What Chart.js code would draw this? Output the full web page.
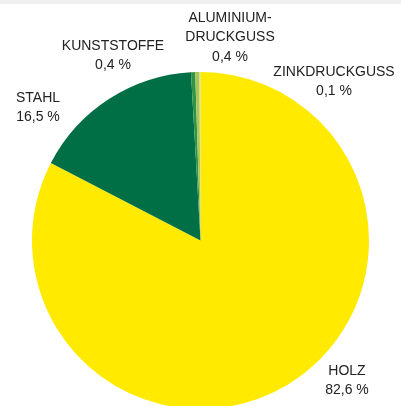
<!DOCTYPE html>
<html>
<head>
<meta charset="utf-8">
<script src="https://cdn.jsdelivr.net/npm/chart.js@4"></script>
<style>
    html, body { margin: 0; padding: 0; background: #fff; }
    #wrap { width: 401px; height: 406px; position: relative; }
</style>
</head>
<body>
<div id="wrap"><canvas id="materialChart" width="401" height="406"></canvas></div>
<script>
// Werkstoffanteile
const materials = ['HOLZ', 'STAHL', 'KUNSTSTOFFE', 'ALUMINIUM-\nDRUCKGUSS', 'ZINKDRUCKGUSS'];
const shares = [82.6, 16.5, 0.4, 0.4, 0.1];
const sliceColors = ['#ffea00', '#006f45', '#2f9446', '#a9c657', '#d8dc86'];

// label anchors (centre x, first line y)
const labelAnchors = [
    [347, 371],
    [38, 98],
    [113, 46],
    [230, 18],
    [334, 72]
];

const lineHeight = 19.5;

const outsideLabels = {
    id: 'outsideLabels',
    beforeDraw(chart) {
        const ctx = chart.ctx;
        ctx.save();
        ctx.fillStyle = '#f0f0f0';
        ctx.fillRect(0, 0, chart.width, 4);
        ctx.restore();
    },
    afterDraw(chart) {
        const ctx = chart.ctx;
        ctx.save();
        ctx.font = '14px "Liberation Sans", Arial, sans-serif';
        ctx.fillStyle = '#222';
        ctx.textAlign = 'center';
        ctx.textBaseline = 'middle';
        materials.forEach(function(name, i) {
            const lines = name.split('\n');
            lines.push(shares[i].toFixed(1).replace('.', ',') + ' %');
            const [x, y] = labelAnchors[i];
            lines.forEach(function(line, j) {
                ctx.fillText(line, x, y + j * lineHeight);
            });
        });
        ctx.restore();
    }
};

new Chart(document.getElementById('materialChart'), {
    type: 'pie',
    data: {
        labels: materials,
        datasets: [{
            data: shares,
            backgroundColor: sliceColors,
            borderWidth: 0,
            clip: false
        }]
    },
    options: {
        responsive: false,
        animation: false,
        radius: 168.5,
        layout: { padding: { top: 75, bottom: 0, left: 0, right: 0 } },
        plugins: {
            legend: { display: false },
            tooltip: { enabled: false }
        }
    },
    plugins: [outsideLabels]
});
</script>
</body>
</html>
